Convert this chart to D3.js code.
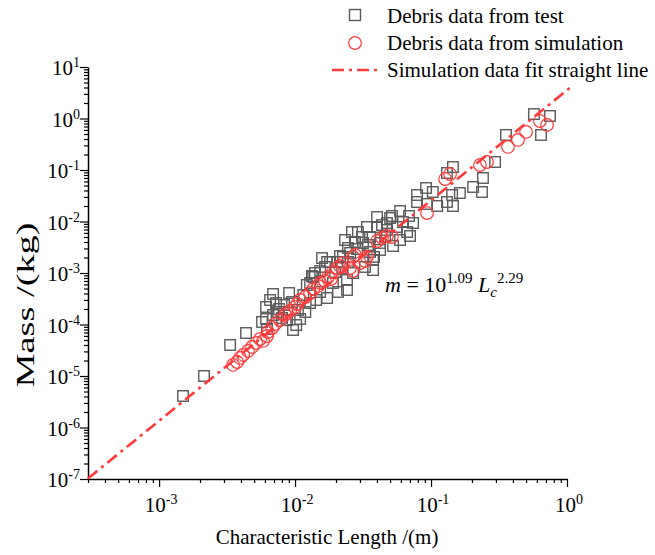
<!DOCTYPE html>
<html>
<head>
<meta charset="utf-8">
<script src="https://cdn.jsdelivr.net/npm/d3@7"></script>
<style>
  body { margin: 0; background: #fff; }
  svg { display: block; }
  text { font-family: "Liberation Serif", "Times New Roman", serif; fill: #000; }
</style>
</head>
<body>
<svg id="chart" width="655" height="555"></svg>
<script>
// Fragment characteristic length (m) and mass (kg) from the impact test
const testLength = [
  1.50e-3, 2.14e-3, 3.33e-3, 4.36e-3, 6.12e-3, 6.12e-3, 6.89e-3, 9.04e-3, 7.25e-3, 7.62e-3,
  6.22e-3, 6.89e-3, 8.73e-3, 1.09e-2, 8.02e-3, 9.66e-3, 1.15e-2, 1.22e-2, 1.29e-2, 1.36e-2,
  1.53e-2, 1.72e-2, 1.72e-2, 1.90e-2, 1.97e-2, 2.41e-2, 2.41e-2, 1.05e-2, 1.66e-2, 1.33e-2,
  1.81e-2, 2.04e-2, 2.14e-2, 2.25e-2, 2.45e-2, 2.54e-2, 2.67e-2, 2.76e-2, 2.86e-2, 2.90e-2,
  3.11e-2, 3.16e-2, 3.27e-2, 3.38e-2, 3.44e-2, 3.56e-2, 3.56e-2, 3.75e-2, 3.75e-2, 4.01e-2,
  4.01e-2, 4.22e-2, 4.36e-2, 4.59e-2, 4.74e-2, 4.74e-2, 5.00e-2, 5.16e-2, 5.62e-2, 5.92e-2,
  5.92e-2, 6.67e-2, 6.89e-2, 7.01e-2, 7.38e-2, 7.89e-2, 7.89e-2, 9.19e-2, 9.35e-2, 0.103,
  0.111, 0.131, 0.145, 0.131, 0.143, 0.145, 0.163, 0.204, 0.237, 0.241,
  0.296, 0.356, 0.571, 0.644, 0.750, 1.40e-2, 1.29e-2, 7.50e-3, 3.81e-2, 4.22e-2,
  6.55e-3, 8.30e-3, 5.72e-3, 9.50e-3, 1.02e-2, 1.19e-2, 1.43e-2, 1.53e-2, 2.07e-2, 2.22e-2,
  2.45e-2, 1.58e-2, 2.33e-2, 2.62e-2, 5.26e-2, 6.22e-2
];
const testMass = [
  4.09e-6, 1.00e-5, 4.00e-5, 6.84e-5, 2.19e-4, 1.28e-4, 3.91e-4, 4.09e-4, 2.61e-4, 2.00e-4,
  8.18e-5, 1.53e-4, 1.22e-4, 1.28e-4, 1.34e-4, 7.82e-5, 3.74e-4, 5.85e-4, 2.61e-4, 8.36e-4,
  1.09e-3, 1.64e-3, 3.27e-4, 6.40e-4, 1.04e-3, 7.31e-4, 4.68e-4, 1.91e-4, 1.31e-3, 8.75e-4,
  1.64e-3, 1.64e-3, 2.14e-3, 2.05e-3, 3.06e-3, 2.45e-3, 1.00e-3, 4.00e-3, 2.92e-3, 6.25e-3,
  5.00e-3, 3.83e-3, 1.31e-3, 7.82e-3, 3.50e-3, 5.00e-3, 2.56e-3, 1.79e-3, 1.14e-3, 1.22e-2,
  7.82e-3, 2.80e-3, 8.55e-3, 5.00e-3, 9.35e-3, 6.84e-3, 1.17e-2, 1.28e-2, 7.82e-3, 1.60e-2,
  4.37e-3, 6.25e-3, 1.28e-2, 5.23e-3, 9.35e-3, 3.27e-2, 2.39e-2, 4.47e-2, 2.19e-2, 3.74e-2,
  2.00e-2, 8.75e-2, 0.114, 2.39e-2, 3.27e-2, 2.00e-2, 3.57e-2, 4.68e-2, 3.74e-2, 7.00e-2,
  0.143, 0.479, 1.22, 0.479, 1.12, 1.00e-3, 6.40e-4, 1.75e-4, 2.05e-3, 3.83e-3,
  2.99e-4, 2.39e-4, 1.12e-4, 2.73e-4, 9.77e-5, 1.75e-4, 2.99e-4, 4.28e-4, 4.28e-4, 1.25e-3,
  1.64e-3, 1.95e-3, 4.37e-3, 6.25e-3, 3.34e-3, 9.77e-3
];

// Fragment characteristic length (m) and mass (kg) from the simulation
const simLength = [
  3.50e-3, 3.75e-3, 3.94e-3, 4.15e-3, 4.51e-3, 4.83e-3, 5.17e-3, 5.53e-3, 5.82e-3, 6.22e-3,
  6.33e-3, 6.78e-3, 7.13e-3, 7.76e-3, 8.44e-3, 8.73e-3, 9.19e-3, 1.00e-2, 1.04e-2, 1.09e-2,
  1.19e-2, 1.29e-2, 1.36e-2, 1.48e-2, 1.53e-2, 1.66e-2, 1.75e-2, 1.84e-2, 1.90e-2, 2.04e-2,
  2.14e-2, 2.25e-2, 2.54e-2, 2.67e-2, 2.67e-2, 2.76e-2, 3.01e-2, 3.27e-2, 3.38e-2, 4.01e-2,
  4.36e-2, 4.74e-2, 5.16e-2, 9.35e-2, 0.127, 0.138, 0.229, 0.258, 0.368, 0.436,
  0.500, 0.632, 0.713
];
const simMass = [
  1.64e-5, 1.87e-5, 2.24e-5, 2.56e-5, 3.06e-5, 3.66e-5, 4.37e-5, 5.23e-5, 4.79e-5, 5.98e-5,
  7.15e-5, 8.55e-5, 1.02e-4, 1.22e-4, 1.53e-4, 1.67e-4, 1.83e-4, 2.19e-4, 2.50e-4, 2.99e-4,
  3.42e-4, 4.09e-4, 4.89e-4, 5.60e-4, 6.40e-4, 7.00e-4, 8.36e-4, 7.64e-4, 1.04e-3, 1.25e-3,
  1.37e-3, 1.56e-3, 1.25e-3, 1.09e-3, 2.05e-3, 2.24e-3, 1.56e-3, 1.71e-3, 2.05e-3, 4.18e-3,
  4.79e-3, 5.23e-3, 5.00e-3, 1.46e-2, 6.68e-2, 8.36e-2, 0.125, 0.143, 0.280, 0.383,
  0.547, 0.894, 0.748
];

// Straight-line fit of the simulation data in log-log space: log10(m) = a + b*log10(L)
const fitLogCoef = 0.55;
const fitExponent = 2.14;
const fitRange = [3e-4, 1.1];

const xTickExponents = [-3, -2, -1, 0];
const yTickExponents = [1, 0, -1, -2, -3, -4, -5, -6, -7];
const legendLabels = ["Debris data from test", "Debris data from simulation", "Simulation data fit straight line"];
const xTitle = "Characteristic Length /(m)";
const yTitle = "Mass /(kg)";

const red = "#ff3a3a";
const grey = "#5a5a5a";
const dashPattern = "12,5,3,5";

const svg = d3.select("#chart");
const x = d3.scaleLog().domain([3e-4, 1]).range([88, 567]);
const y = d3.scaleLog().domain([1e-7, 10]).range([479, 67]);

function minorTicks(domain) {
  const out = [];
  const lo = domain[0], hi = domain[1];
  for (let e = Math.floor(Math.log10(lo)); e < Math.ceil(Math.log10(hi)); e++) {
    for (let k = 2; k < 10; k++) {
      const v = k * Math.pow(10, e);
      if (v >= lo * 0.999 && v <= hi * 1.001) out.push(v);
    }
  }
  return out;
}

// Axes
const x0 = y.range()[0], yAxisX = x.range()[0];
const gx = svg.append("g").attr("transform", `translate(0,${x0})`);
gx.call(d3.axisBottom(x).tickValues(minorTicks(x.domain())).tickSize(4).tickSizeOuter(0).tickFormat(""));
gx.append("g").call(d3.axisBottom(x).tickValues(xTickExponents.map(e => Math.pow(10, e))).tickSize(8).tickSizeOuter(0).tickFormat(""))
  .select(".domain").remove();

const gy = svg.append("g").attr("transform", `translate(${yAxisX},0)`);
gy.call(d3.axisLeft(y).tickValues(minorTicks(y.domain())).tickSize(4).tickSizeOuter(0).tickFormat(""));
gy.append("g").call(d3.axisLeft(y).tickValues(yTickExponents.map(e => Math.pow(10, e))).tickSize(8).tickSizeOuter(0).tickFormat(""))
  .select(".domain").remove();

svg.selectAll(".domain").attr("stroke", "#000").attr("stroke-width", 1.5);
svg.selectAll(".tick line").attr("stroke", "#000").attr("stroke-width", 1.2);

// Tick labels as powers of ten
xTickExponents.forEach(e => {
  const t = svg.append("text").attr("x", x(Math.pow(10, e)) + 2).attr("y", 512)
    .attr("text-anchor", "middle").style("font-size", "21px");
  t.append("tspan").text("10");
  t.append("tspan").attr("dy", -8).style("font-size", "14px").text(String(e));
});
yTickExponents.forEach(e => {
  const t = svg.append("text").attr("x", 80).attr("y", y(Math.pow(10, e)) + 8)
    .attr("text-anchor", "end").style("font-size", "21px");
  t.append("tspan").text("10");
  t.append("tspan").attr("dy", -8).style("font-size", "14px").text(String(e));
});

// Axis titles
svg.append("text").attr("x", 327).attr("y", 544).attr("text-anchor", "middle")
  .style("font-size", "21px").text(xTitle);
svg.append("text").attr("transform", "translate(34,305) rotate(-90)").attr("text-anchor", "middle")
  .attr("textLength", 165).attr("lengthAdjust", "spacingAndGlyphs")
  .style("font-size", "26px").text(yTitle);

// Test data: open grey squares
const sq = 10.5;
svg.append("g").selectAll("rect")
  .data(testLength.map((L, i) => [L, testMass[i]]))
  .join("rect")
  .attr("x", d => x(d[0]) - sq / 2).attr("y", d => y(d[1]) - sq / 2)
  .attr("width", sq).attr("height", sq)
  .attr("fill", "none").attr("stroke", grey).attr("stroke-width", 1.4);

// Simulation data: open red circles
svg.append("g").selectAll("circle")
  .data(simLength.map((L, i) => [L, simMass[i]]))
  .join("circle")
  .attr("cx", d => x(d[0])).attr("cy", d => y(d[1])).attr("r", 6.3)
  .attr("fill", "none").attr("stroke", red).attr("stroke-width", 1.2);

// Fitted straight line
const fitMass = L => Math.pow(10, fitLogCoef + fitExponent * Math.log10(L));
svg.append("path")
  .datum(fitRange)
  .attr("d", d3.line().x(L => x(L)).y(L => y(fitMass(L))))
  .attr("fill", "none").attr("stroke", red).attr("stroke-width", 2.6)
  .attr("stroke-dasharray", dashPattern);

// Fit equation
const eq = svg.append("text").attr("x", 385).attr("y", 292).style("font-size", "22px");
eq.append("tspan").style("font-style", "italic").text("m");
eq.append("tspan").text(" = 10");
eq.append("tspan").attr("dy", -9).style("font-size", "15px").text("1.09");
eq.append("tspan").attr("dy", 9).text(" ");
eq.append("tspan").style("font-style", "italic").text("L");
eq.append("tspan").attr("dy", 5).style("font-size", "15px").style("font-style", "italic").text("c");
eq.append("tspan").attr("dy", -14).style("font-size", "15px").text("2.29");

// Legend
const lg = svg.append("g");
lg.append("rect").attr("x", 355 - 5.5).attr("y", 15 - 5.5).attr("width", 11).attr("height", 11)
  .attr("fill", "none").attr("stroke", grey).attr("stroke-width", 1.4);
lg.append("circle").attr("cx", 355).attr("cy", 43).attr("r", 6.3)
  .attr("fill", "none").attr("stroke", red).attr("stroke-width", 1.2);
lg.append("line").attr("x1", 332).attr("x2", 378).attr("y1", 70).attr("y2", 70)
  .attr("stroke", red).attr("stroke-width", 2.6).attr("stroke-dasharray", dashPattern);
legendLabels.forEach((s, i) => {
  lg.append("text").attr("x", 387).attr("y", 23 + i * 27).style("font-size", "21px").text(s);
});
</script>
</body>
</html>
